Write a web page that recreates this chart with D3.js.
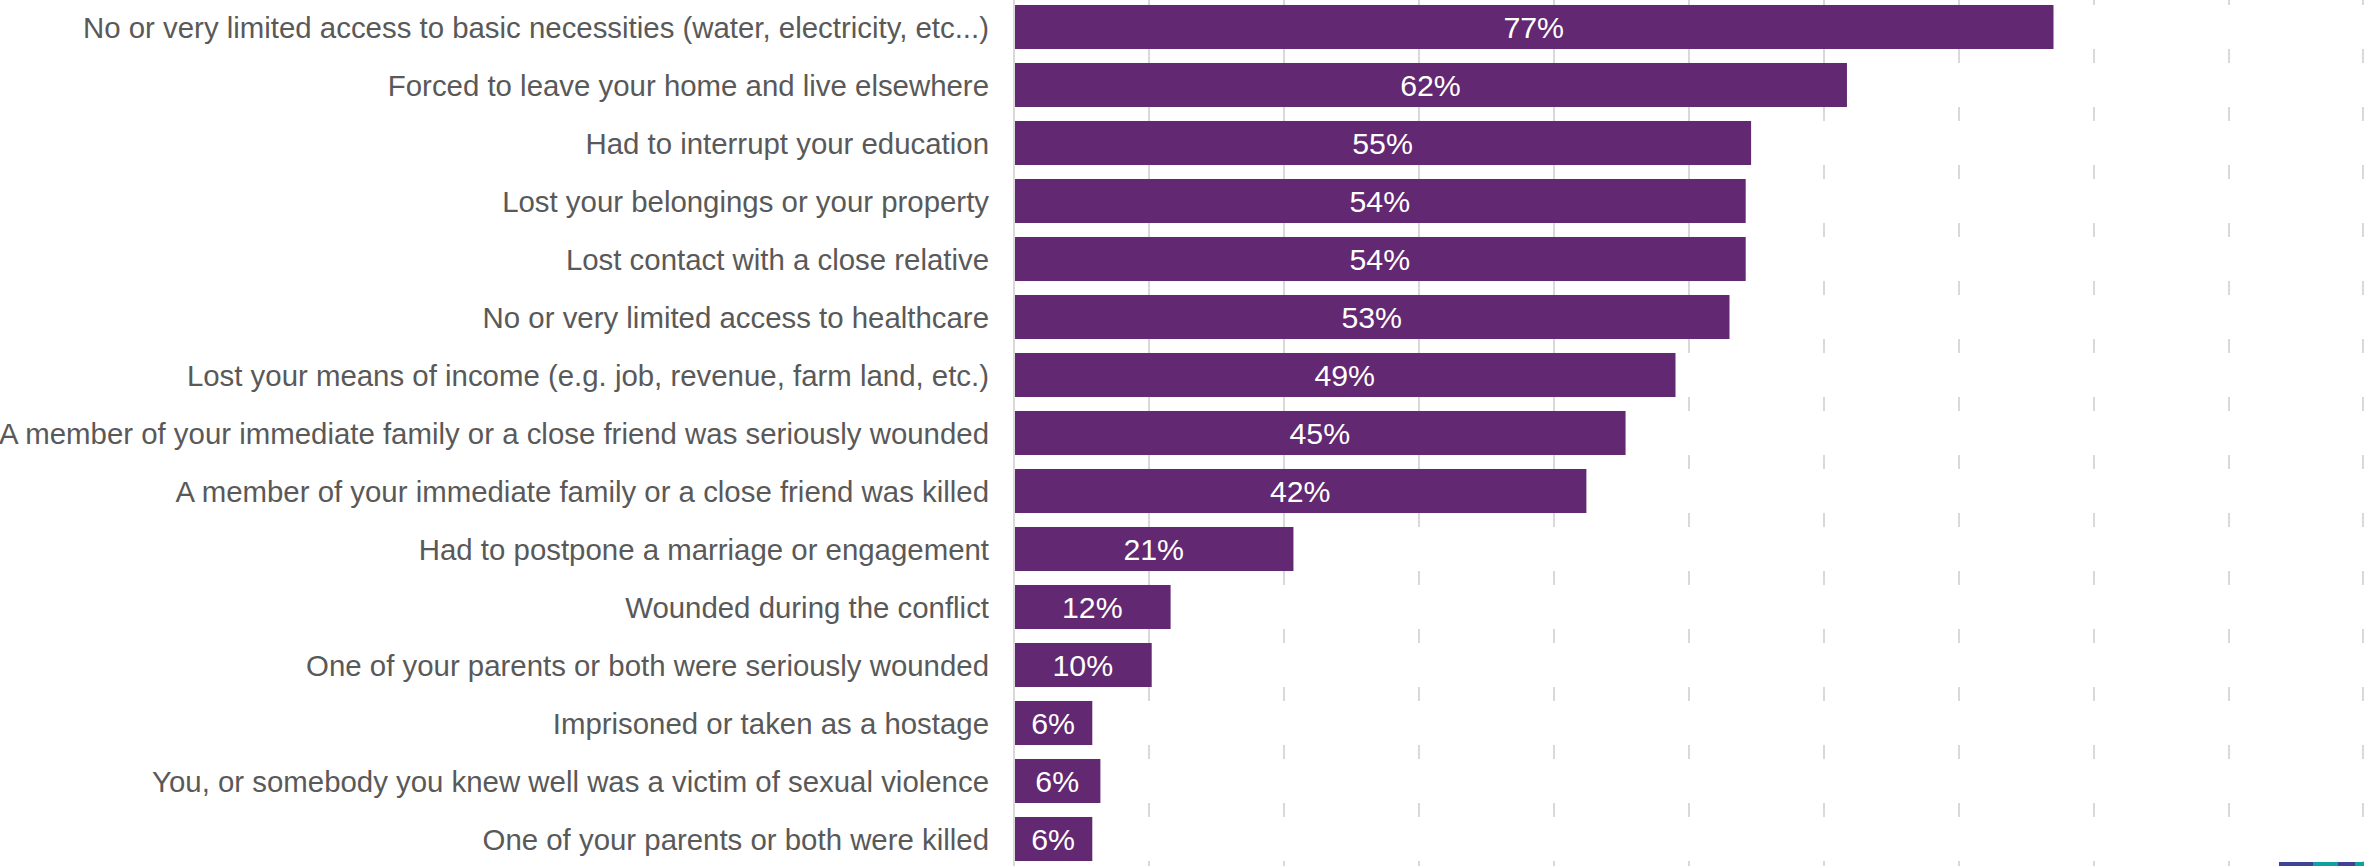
<!DOCTYPE html>
<html>
<head>
<meta charset="utf-8">
<script src="https://cdn.jsdelivr.net/npm/d3@7"></script>
<style>
  html, body { margin: 0; padding: 0; background: #ffffff; }
  svg { display: block; }
</style>
</head>
<body>
<script>
const categories = [
  "No or very limited access to basic necessities (water, electricity, etc...)",
  "Forced to leave your home and live elsewhere",
  "Had to interrupt your education",
  "Lost your belongings or your property",
  "Lost contact with a close relative",
  "No or very limited access to healthcare",
  "Lost your means of income (e.g. job, revenue, farm land, etc.)",
  "A member of your immediate family or a close friend was seriously wounded",
  "A member of your immediate family or a close friend was killed",
  "Had to postpone a marriage or engagement",
  "Wounded during the conflict",
  "One of your parents or both were seriously wounded",
  "Imprisoned or taken as a hostage",
  "You, or somebody you knew well was a victim of sexual violence",
  "One of your parents or both were killed"
];
const values = [77.0, 61.7, 54.6, 54.2, 54.2, 53.0, 49.0, 45.3, 42.4, 20.7, 11.6, 10.2, 5.8, 6.4, 5.8];
const valueLabels = ["77%", "62%", "55%", "54%", "54%", "53%", "49%", "45%", "42%", "21%", "12%", "10%", "6%", "6%", "6%"];
const xTicks = [10, 20, 30, 40, 50, 60, 70, 80, 90, 100];

const W = 2364, H = 866;
const axisX = 1014;
const svg = d3.select("body").append("svg").attr("width", W).attr("height", H);

const x = d3.scaleLinear().domain([0, 100]).range([axisX, W]);
const y = d3.scaleBand().domain(categories).range([0, H]).paddingInner(0.241).paddingOuter(0.086);

const font = "'Liberation Sans', Arial, sans-serif";
const labelFs = 29.4;
const valueFs = 30.3;

// gridline segments in gaps between bars
const gaps = [];
gaps.push([0, y(categories[0])]);
for (let i = 0; i < categories.length - 1; i++) {
  gaps.push([y(categories[i]) + y.bandwidth(), y(categories[i + 1])]);
}
gaps.push([y(categories[categories.length - 1]) + y.bandwidth(), H]);

const grid = svg.append("g");
xTicks.forEach(t => {
  gaps.forEach(g => {
    grid.append("line")
      .attr("x1", Math.min(x(t), W - 1)).attr("x2", Math.min(x(t), W - 1))
      .attr("y1", g[0]).attr("y2", g[1])
      .attr("stroke", "#d9d9d9").attr("stroke-width", 2);
  });
});

// category axis line
svg.append("line")
  .attr("x1", axisX).attr("x2", axisX).attr("y1", 0).attr("y2", H)
  .attr("stroke", "#d9d9d9").attr("stroke-width", 2);

// bars
svg.append("g").selectAll("rect").data(values).join("rect")
  .attr("x", x(0) + 1)
  .attr("y", (d, i) => y(categories[i]))
  .attr("width", d => x(d) - x(0) - 1)
  .attr("height", y.bandwidth())
  .attr("fill", "#622872");

// value labels
svg.append("g").selectAll("text").data(values).join("text")
  .attr("x", d => (x(0) + x(d)) / 2)
  .attr("y", (d, i) => y(categories[i]) + y.bandwidth() / 2)
  .attr("dy", "0.36em")
  .attr("text-anchor", "middle")
  .attr("font-family", font)
  .attr("font-size", valueFs)
  .attr("fill", "#ffffff")
  .text((d, i) => valueLabels[i]);

// category labels
svg.append("g").selectAll("text").data(categories).join("text")
  .attr("x", axisX - 25)
  .attr("y", d => y(d) + y.bandwidth() / 2)
  .attr("dy", "0.36em")
  .attr("text-anchor", "end")
  .attr("font-family", font)
  .attr("font-size", labelFs)
  .attr("fill", "#595959")
  .text(d => d);

// logo fragment at bottom right
const logo = [["#3f4396", 2279, 2313], ["#10a19c", 2313, 2338], ["#3f4396", 2338, 2355], ["#10a19c", 2355, 2364]];
svg.append("g").selectAll("rect").data(logo).join("rect")
  .attr("x", d => d[1]).attr("width", d => d[2] - d[1])
  .attr("y", 862).attr("height", 4)
  .attr("fill", d => d[0]);
</script>
</body>
</html>
